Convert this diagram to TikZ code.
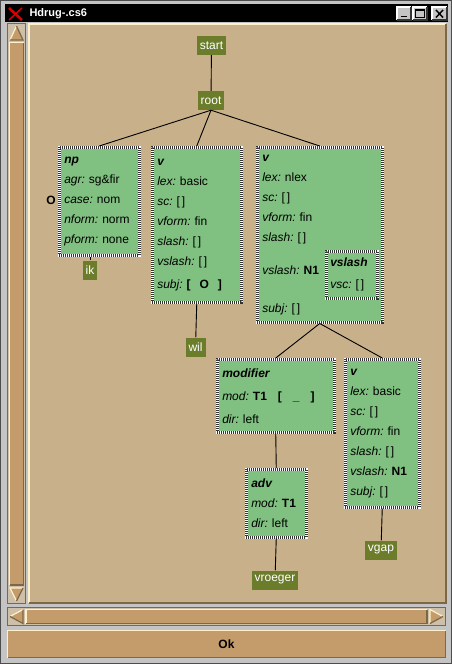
\documentclass[tikz,border=0pt]{standalone}
\usepackage{fontspec}
\setmainfont{Liberation Sans}
\usetikzlibrary{positioning}

\definecolor{wingray}{HTML}{C4C4C4}
\definecolor{canvastan}{HTML}{C8B08A}
\definecolor{slidertan}{HTML}{C49C6C}
\definecolor{troughtan}{HTML}{CDBFA8}
\definecolor{hilite}{HTML}{FFF0C8}
\definecolor{darkedge}{HTML}{7C6848}
\definecolor{leafolive}{HTML}{6B7D2B}
\definecolor{fsgreen}{HTML}{80C080}

\newcommand{\ft}[2]{\textit{#1:}\ #2}
\newcommand{\ftype}[1]{\textbf{\textit{#1}}}
\newcommand{\elist}{[\,]}
% fill, light edge, dark edge, x1, y1, x2, y2
\newcommand{\bevel}[7]{%
  \fill[#1] (#4,#5) rectangle (#6,#7);
  \draw[#2,line width=1.5pt] (#4,#7) -- (#4,#5) -- (#6,#5);
  \draw[#3,line width=1.5pt] (#6,#5) -- (#6,#7) -- (#4,#7);}

\begin{document}
\begin{tikzpicture}[x=1pt,y=-1pt,
  fs/.style={anchor=north west,align=left,fill=fsgreen,draw=white,line width=2.5pt,
    postaction={draw=black!80,line width=2.5pt,dash pattern=on 1pt off 1pt},
    inner xsep=5pt,inner ysep=0pt,font=\fontsize{12}{20}\selectfont},
  leaf/.style={fill=leafolive,text=white,inner xsep=3pt,inner ysep=0pt,
    minimum height=19pt,font=\fontsize{12}{14}\selectfont},
  edge/.style={line width=0.9pt}]
\useasboundingbox (0,0) rectangle (452,664);

% window frame and title bar
\fill[wingray] (0,0) rectangle (452,664);
\draw[gray!60!black,line width=1pt] (0.5,0.5) rectangle (451.5,663.5);
\fill[black] (5,4) rectangle (448,22);
\draw[red!85!black,line width=2.5pt] (9,8) -- (22,20);
\draw[red!85!black,line width=1.5pt] (22,8) -- (9,20);
\node[anchor=west,text=white,font=\bfseries\fontsize{11}{13}\selectfont] (title) at (26,13.5) {Hdrug-.cs6};
\bevel{wingray}{white}{gray!40!black}{397}{7}{411}{20}
\bevel{wingray}{white}{gray!40!black}{413}{7}{427}{20}
\bevel{wingray}{white}{gray!40!black}{432}{7}{447}{20}
\draw[black,line width=1.5pt] (401,16.5) -- (407,16.5);
\draw[black,line width=1.2pt] (415.5,10) rectangle (424.5,17.5);
\draw[black,line width=1.5pt] (436,10) -- (443,17.5) (443,10) -- (436,17.5);

% canvas
\fill[canvastan] (28,23) rectangle (447,604);
\draw[hilite,line width=2pt] (29,603) -- (29,24) -- (446,24);
\draw[darkedge,line width=2pt] (446,24) -- (446,603) -- (29,603);

% vertical scrollbar
\fill[troughtan] (7,23) rectangle (26,604);
\draw[darkedge,line width=1pt] (7.5,23.5) rectangle (25.5,603.5);
\fill[slidertan] (16.5,26) -- (23,40) -- (10,40) -- cycle;
\draw[hilite,line width=1.2pt] (10,40) -- (16.5,26);
\draw[darkedge,line width=1.2pt] (16.5,26) -- (23,40) -- (10,40);
\bevel{slidertan}{hilite}{darkedge}{9.5}{42.5}{23.5}{585}
\fill[slidertan] (16.5,601) -- (23,588) -- (10,588) -- cycle;
\draw[hilite,line width=1.2pt] (23,588) -- (10,588) -- (16.5,601);
\draw[darkedge,line width=1.2pt] (16.5,601) -- (23,588);

% horizontal scrollbar
\fill[troughtan] (7,607) rectangle (446,626);
\draw[darkedge,line width=1pt] (7.5,607.5) rectangle (445.5,625.5);
\fill[slidertan] (10,616.5) -- (23,609.5) -- (23,623.5) -- cycle;
\draw[hilite,line width=1.2pt] (23,609.5) -- (10,616.5);
\draw[darkedge,line width=1.2pt] (10,616.5) -- (23,623.5) -- (23,609.5);
\bevel{slidertan}{hilite}{darkedge}{26}{609.5}{427}{623.5}
\fill[slidertan] (443,616.5) -- (430,609.5) -- (430,623.5) -- cycle;
\draw[hilite,line width=1.2pt] (430,623.5) -- (430,609.5) -- (443,616.5);
\draw[darkedge,line width=1.2pt] (443,616.5) -- (430,623.5);

% Ok button
\bevel{slidertan}{hilite}{darkedge}{7.5}{630.5}{445.5}{657.5}
\node[font=\bfseries\fontsize{12}{14}\selectfont] (ok) at (226.5,644) {Ok};

% feature structures
\node[fs,text width=70pt,minimum height=108pt] (np) at (58,146)
  {\ftype{np}\\ \ft{agr}{sg\&fir}\\ \ft{case}{nom}\\ \ft{nform}{norm}\\ \ft{pform}{none}};
\node[font=\bfseries\fontsize{12}{14}\selectfont] (oref) at (51,200) {O};
\node[fs,text width=79pt,minimum height=155pt] (vbasic) at (151,146)
  {\ftype{v}\\ \ft{lex}{basic}\\ \ft{sc}{\elist}\\ \ft{vform}{fin}\\ \ft{slash}{\elist}\\
   \ft{vslash}{\elist}\\[3pt] \ft{subj}{\textbf{[\hspace{9pt}O\hspace{9pt}]}}};
\node[fs,text width=115pt,minimum height=175pt] (vnlex) at (256,146)
  {\ftype{v}\\ \ft{lex}{nlex}\\ \ft{sc}{\elist}\\ \ft{vform}{fin}\\ \ft{slash}{\elist}\\[13pt]
   \ft{vslash}{\textbf{N1}}\\[18pt] \ft{subj}{\elist}};
\node[fs,text width=43pt,inner xsep=4pt,minimum height=47pt,font=\fontsize{12}{22}\selectfont]
  (vsl) at (325,250) {\ftype{vslash}\\ \ft{vsc}{\elist}};
\node[fs,text width=107pt,minimum height=73pt,font=\fontsize{12}{23}\selectfont] (modif) at (216,358)
  {\ftype{modifier}\\ \ft{mod}{\textbf{T1\hspace{11pt}[\hspace{11pt}\_\hspace{11pt}]}}\\ \ft{dir}{left}};
\node[fs,text width=50pt,minimum height=68pt] (adv) at (245,468)
  {\ftype{adv}\\ \ft{mod}{\textbf{T1}}\\ \ft{dir}{left}};
\node[fs,text width=64pt,minimum height=148pt] (vgapfs) at (344,358)
  {\ftype{v}\\ \ft{lex}{basic}\\ \ft{sc}{\elist}\\ \ft{vform}{fin}\\ \ft{slash}{\elist}\\
   \ft{vslash}{\textbf{N1}}\\ \ft{subj}{\elist}};

% words
\node[leaf] (start) at (211.5,45.5) {start};
\node[leaf] (root) at (211,100.5) {root};
\node[leaf] (ik) at (90,270) {ik};
\node[leaf] (wil) at (195.5,347) {wil};
\node[leaf] (vroeger) at (275,580) {vroeger};
\node[leaf] (vgap) at (381,550) {vgap};

% tree
\draw[edge] (start) -- (root);
\draw[edge] (root.south) -- (np.north);
\draw[edge] (root.south) -- (vbasic.north);
\draw[edge] (root.south) -- (vnlex.north);
\draw[edge] (np.south -| ik) -- (ik);
\draw[edge] (vbasic.south) -- (wil);
\draw[edge] (vnlex.south) -- (modif.north);
\draw[edge] (vnlex.south) -- (vgapfs.north);
\draw[edge] (modif.south) -- (adv.north);
\draw[edge] (adv.south) -- (vroeger);
\draw[edge] (vgapfs.south) -- (vgap);
\end{tikzpicture}
\end{document}
